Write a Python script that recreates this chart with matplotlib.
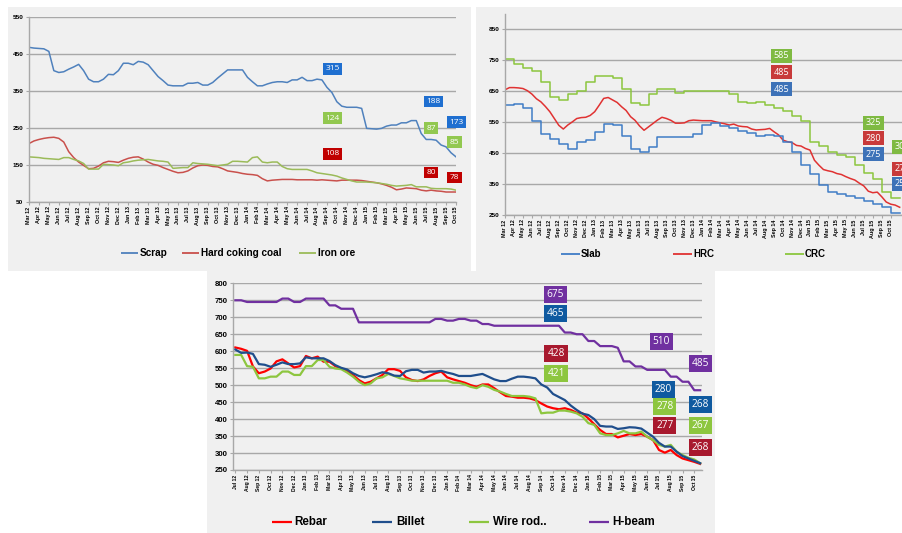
import numpy as np
import matplotlib
matplotlib.use('Agg')
import matplotlib.pyplot as plt
from matplotlib.patches import Rectangle
from matplotlib.lines import Line2D

# ---- data (half-month or monthly samples) ----
mon = ['Jan', 'Feb', 'Mar', 'Apr', 'May', 'Jun', 'Jul', 'Aug', 'Sep', 'Oct', 'Nov', 'Dec']
labels_top = [f'{mon[(2 + i) % 12]} {12 + (2 + i) // 12}' for i in range(44)]     # Mar 12 .. Oct 15
labels_bottom = [f'{mon[(6 + i) % 12]} {12 + (6 + i) // 12}' for i in range(40)]  # Jul 12 .. Oct 15

# raw materials, half-month steps from Mar 12
scrap = [468, 466, 465, 464, 457, 405, 400, 402, 409, 415,
         422, 405, 382, 375, 375, 382, 395, 394, 405, 425,
         425, 421, 430, 428, 421, 405, 389, 378, 366, 364,
         364, 364, 371, 371, 373, 366, 366, 373, 385, 396,
         407, 407, 407, 407, 387, 375, 364, 364, 369, 373,
         375, 375, 373, 380, 380, 387, 378, 378, 382, 380,
         360, 346, 321, 309, 306, 306, 306, 303, 249, 248,
         247, 249, 255, 258, 258, 264, 264, 270, 270, 235,
         219, 219, 217, 204, 199, 183, 172]
coking_coal = [208, 215, 219, 222, 224, 225, 222, 212, 186, 170,
               158, 149, 140, 141, 147, 156, 160, 159, 157, 163,
               168, 171, 172, 166, 158, 152, 149, 143, 138, 133,
               129, 130, 134, 142, 148, 150, 149, 146, 145, 140,
               134, 132, 130, 127, 125, 124, 122, 113, 107, 109,
               110, 111, 111, 111, 110, 110, 110, 110, 109, 110,
               109, 108, 107, 109, 109, 109, 109, 108, 106, 104,
               102, 99, 95, 90, 83, 85, 88, 87, 86, 82,
               80, 82, 80, 79, 77, 77, 77]
iron_ore = [172, 171, 170, 168, 167, 166, 165, 170, 170, 165,
            161, 154, 139, 139, 139, 152, 151, 150, 148, 156,
            158, 161, 163, 164, 165, 163, 161, 160, 158, 141,
            142, 143, 143, 156, 154, 153, 152, 150, 148, 150,
            152, 160, 160, 159, 158, 170, 172, 158, 156, 158,
            158, 146, 140, 138, 138, 138, 138, 134, 129, 127,
            125, 123, 120, 115, 111, 107, 104, 104, 104, 103,
            102, 100, 98, 95, 93, 94, 95, 97, 91, 91,
            91, 87, 86, 86, 86, 85, 82]

# semi-finished / flat, monthly from Mar 12 (slab, CRC) and half-month (HRC)
slab = [605, 609, 595, 555, 512, 496, 480, 465, 487, 494,
        517, 545, 541, 505, 463, 454, 471, 501, 501, 501,
        503, 511, 540, 546, 537, 532, 521, 514, 505, 510,
        505, 487, 455, 411, 382, 346, 323, 318, 312, 306,
        296, 285, 275, 255, 255]
crc = [756, 737, 726, 716, 679, 631, 622, 641, 652, 681,
       698, 700, 692, 656, 612, 605, 641, 656, 656, 645,
       651, 651, 651, 651, 651, 641, 615, 613, 614, 605,
       595, 585, 571, 555, 486, 474, 455, 445, 436, 411,
       387, 365, 325, 304, 304]
hrc = [655, 662, 662, 661, 659, 652, 641, 626, 616, 601,
       584, 562, 540, 528, 541, 551, 562, 565, 566, 572,
       584, 605, 627, 630, 622, 614, 600, 588, 568, 556,
       538, 524, 535, 546, 557, 566, 562, 556, 547, 547,
       548, 555, 557, 556, 555, 555, 555, 551, 548, 545,
       541, 544, 538, 536, 535, 528, 525, 526, 527, 530,
       519, 509, 492, 487, 484, 475, 473, 465, 460, 427,
       411, 397, 393, 390, 384, 381, 374, 368, 363, 353,
       344, 327, 322, 324, 309, 292, 285, 282, 275]

# long products, half-month steps from Jul 12
rebar = [611, 607, 601, 555, 535, 540, 549, 570, 576, 564,
         552, 556, 586, 579, 584, 569, 569, 556, 549, 542,
         530, 515, 505, 510, 520, 530, 547, 547, 542, 523,
         515, 512, 517, 527, 535, 540, 523, 517, 512, 507,
         500, 495, 502, 502, 491, 479, 468, 466, 463, 463,
         461, 456, 446, 437, 432, 429, 432, 427, 419, 417,
         402, 385, 368, 356, 356, 346, 351, 356, 353, 356,
         348, 338, 309, 301, 309, 294, 284, 279, 274, 268]
billet = [605, 595, 596, 592, 562, 560, 554, 560, 567, 562,
          562, 564, 582, 579, 579, 579, 571, 559, 551, 546,
          535, 527, 523, 527, 532, 538, 535, 528, 527, 541,
          545, 545, 537, 540, 540, 542, 537, 533, 527, 527,
          527, 530, 533, 525, 517, 512, 512, 519, 525, 525,
          523, 520, 502, 493, 474, 465, 456, 440, 427, 416,
          412, 400, 380, 378, 378, 371, 373, 376, 375, 372,
          360, 348, 330, 319, 319, 304, 291, 284, 277, 270]
wire_rod = [589, 589, 556, 554, 520, 520, 525, 525, 540, 540,
            530, 530, 556, 556, 574, 574, 554, 549, 547, 537,
            525, 510, 500, 505, 520, 523, 533, 527, 520, 517,
            513, 513, 513, 513, 513, 513, 513, 507, 507, 502,
            495, 491, 500, 495, 486, 481, 474, 468, 468, 468,
            466, 461, 417, 419, 419, 425, 425, 422, 417, 407,
            388, 383, 358, 353, 353, 358, 365, 358, 358, 363,
            348, 338, 324, 319, 324, 304, 294, 286, 281, 270]
h_beam = [750, 750, 745, 745, 745, 745, 745, 745, 755, 755,
          745, 745, 755, 755, 755, 755, 735, 735, 725, 725,
          725, 685, 685, 685, 685, 685, 685, 685, 685, 685,
          685, 685, 685, 685, 695, 695, 690, 690, 695, 695,
          690, 690, 680, 680, 675, 675, 675, 675, 675, 675,
          675, 675, 675, 675, 675, 675, 655, 655, 650, 650,
          630, 630, 615, 615, 615, 610, 570, 570, 555, 555,
          545, 545, 545, 545, 525, 525, 510, 510, 485, 485]

# ---- figure ----
W, H = 903, 533
fig = plt.figure(figsize=(W / 100, H / 100), dpi=100)
fig.patch.set_facecolor('white')
BG = '#f0f0f0'
GRID = '#a8a8a8'
TICKFONT = 'Liberation Sans'


def rect(x0, y0, x1, y1):
    # pixel box, origin top-left -> figure fraction [l, b, w, h]
    return [x0 / W, 1 - y1 / H, (x1 - x0) / W, (y1 - y0) / H]


for x0, y0, x1, y1 in [(8, 7, 471, 271), (476, 7, 903, 271), (207, 271, 715, 533)]:
    l, b, w, h = rect(x0, y0, x1, y1)
    fig.add_artist(Rectangle((l, b), w, h, transform=fig.transFigure,
                             fc=BG, ec='none', zorder=-5))


def style_axes(ax, xlim, ylim, yticks, xlabels, xfs, yfs):
    ax.set_facecolor('none')
    ax.set_xlim(*xlim)
    ax.set_ylim(*ylim)
    ax.set_yticks(yticks)
    ax.set_xticks(range(len(xlabels)))
    ax.set_xticklabels(xlabels, rotation=90)
    for s in ['top', 'right']:
        ax.spines[s].set_visible(False)
    for s in ['left', 'bottom']:
        ax.spines[s].set_color(GRID)
        ax.spines[s].set_linewidth(1.0)
    ax.grid(axis='y', color=GRID, lw=1.0)
    ax.set_axisbelow(True)
    ax.tick_params(axis='both', direction='out', length=2.2, width=0.8, color=GRID)
    ax.tick_params(axis='x', labelsize=xfs, pad=1)
    ax.tick_params(axis='y', labelsize=yfs, pad=2)
    for lab in ax.get_xticklabels() + ax.get_yticklabels():
        lab.set_fontweight('bold')
        lab.set_family(TICKFONT)


def tag(ax, x, y, text, color, fs):
    ax.text(x, y, text, ha='center', va='center', color='white', fontsize=fs,
            family='Open Sans', zorder=6,
            bbox=dict(boxstyle='square,pad=0.28', fc=color, ec='none'))


def legend_item(x, y, color, lw, label, fs, length, gap=2):
    yy = 1 - y / H
    fig.add_artist(Line2D([x / W, (x + length) / W], [yy, yy], transform=fig.transFigure,
                          color=color, lw=lw, solid_capstyle='butt'))
    fig.text((x + length + gap) / W, yy, label, fontsize=fs, fontweight='bold',
             family=TICKFONT, va='center', ha='left')


# panel 1: raw materials
ax1 = fig.add_axes(rect(29, 17, 456, 202))
style_axes(ax1, (0, 43), (50, 550), range(50, 551, 100), labels_top, 3.9, 4.6)
t1 = np.arange(len(scrap)) / 2
ax1.plot(t1, coking_coal, color='#c9504c', lw=1.1)
ax1.plot(t1, iron_ore, color='#9bbb59', lw=1.1)
ax1.plot(t1, scrap, color='#4f81bd', lw=1.1)
tag(ax1, 30.6, 410, '315', '#1f6fd0', 6)
tag(ax1, 30.6, 277, '124', '#92c850', 6)
tag(ax1, 30.6, 180, '108', '#c00000', 6)
tag(ax1, 40.7, 322, '188', '#1f6fd0', 6)
tag(ax1, 40.5, 250, '87', '#92c850', 6)
tag(ax1, 40.5, 130, '80', '#c00000', 6)
tag(ax1, 43.05, 266, '173', '#1f6fd0', 6)
tag(ax1, 42.85, 212, '85', '#92c850', 6)
tag(ax1, 42.85, 116, '78', '#c00000', 6)
legend_item(121, 253, '#4f81bd', 1.3, 'Scrap', 7.2, 17)
legend_item(182, 253, '#c9504c', 1.3, 'Hard coking coal', 7.2, 17)
legend_item(299, 253, '#9bbb59', 1.3, 'Iron ore', 7.2, 17)

# panel 2: slab, HRC, CRC (runs past the right edge of the picture)
ax2 = fig.add_axes(rect(505, 14, 505 + 45 * 8.97, 215))
style_axes(ax2, (0, 45), (250, 900), range(250, 851, 100), labels_top, 3.9, 4.6)
t2m = np.arange(len(slab))
t2h = np.arange(len(hrc)) / 2
ax2.plot(t2m, crc, color='#8cc63e', lw=1.1, drawstyle='steps-post')
ax2.plot(t2h, hrc, color='#e03232', lw=1.1)
ax2.plot(t2m, slab, color='#3f7cc6', lw=1.1, drawstyle='steps-post')
tag(ax2, 30.8, 765, '585', '#7fba42', 6.5)
tag(ax2, 30.8, 712, '485', '#c83a3a', 6.5)
tag(ax2, 30.8, 657, '485', '#3d72b8', 6.5)
tag(ax2, 41.1, 548, '325', '#7fba42', 6.5)
tag(ax2, 41.1, 498, '280', '#c83a3a', 6.5)
tag(ax2, 41.1, 446, '275', '#3d72b8', 6.5)
# these three sit on the picture's right edge and are cut off, as in the source
tag(ax2, 44.26, 470, '305', '#7fba42', 6.5)
tag(ax2, 44.26, 400, '270', '#c83a3a', 6.5)
tag(ax2, 44.26, 351, '255', '#3d72b8', 6.5)
legend_item(561, 254, '#3f7cc6', 1.3, 'Slab', 7, 19, 1)
legend_item(673, 254, '#e03232', 1.3, 'HRC', 7, 19, 1)
legend_item(785, 254, '#8cc63e', 1.3, 'CRC', 7, 19, 1)

# panel 3: long products
ax3 = fig.add_axes(rect(233.3, 283.3, 701.7, 470))
style_axes(ax3, (-0.17, 39.63), (250, 800), range(250, 801, 50), labels_bottom, 3.6, 5.6)
t3 = np.arange(len(rebar)) / 2
ax3.plot(t3, h_beam, color='#7030a0', lw=1.6)
ax3.plot(t3, rebar, color='#ff0000', lw=1.6)
ax3.plot(t3, wire_rod, color='#8dc63f', lw=1.6)
ax3.plot(t3, billet, color='#1f4e8c', lw=1.6)
tag(ax3, 27.2, 768, '675', '#7030a0', 7.3)
tag(ax3, 27.2, 711, '465', '#0f5aa0', 7.3)
tag(ax3, 27.25, 593, '428', '#a8192e', 7.3)
tag(ax3, 27.25, 534, '421', '#8dc63f', 7.3)
tag(ax3, 36.2, 628, '510', '#7030a0', 7.3)
tag(ax3, 39.5, 564, '485', '#7030a0', 7.3)
tag(ax3, 36.4, 487, '280', '#0f5aa0', 7.3)
tag(ax3, 39.5, 443, '268', '#0f5aa0', 7.3)
tag(ax3, 36.5, 437, '278', '#8dc63f', 7.3)
tag(ax3, 36.5, 382, '277', '#a8192e', 7.3)
tag(ax3, 39.5, 381, '267', '#8dc63f', 7.3)
tag(ax3, 39.5, 316, '268', '#a8192e', 7.3)
legend_item(272, 521.7, '#ff0000', 1.6, 'Rebar', 8.4, 20, 2.5)
legend_item(372, 521.7, '#1f4e8c', 1.6, 'Billet', 8.4, 20, 4)
legend_item(469, 521.7, '#8dc63f', 1.6, 'Wire rod..', 8.4, 20, 4)
legend_item(589, 521.7, '#7030a0', 1.6, 'H-beam', 8.4, 20, 3.5)

fig.savefig('out.png', dpi=100)
